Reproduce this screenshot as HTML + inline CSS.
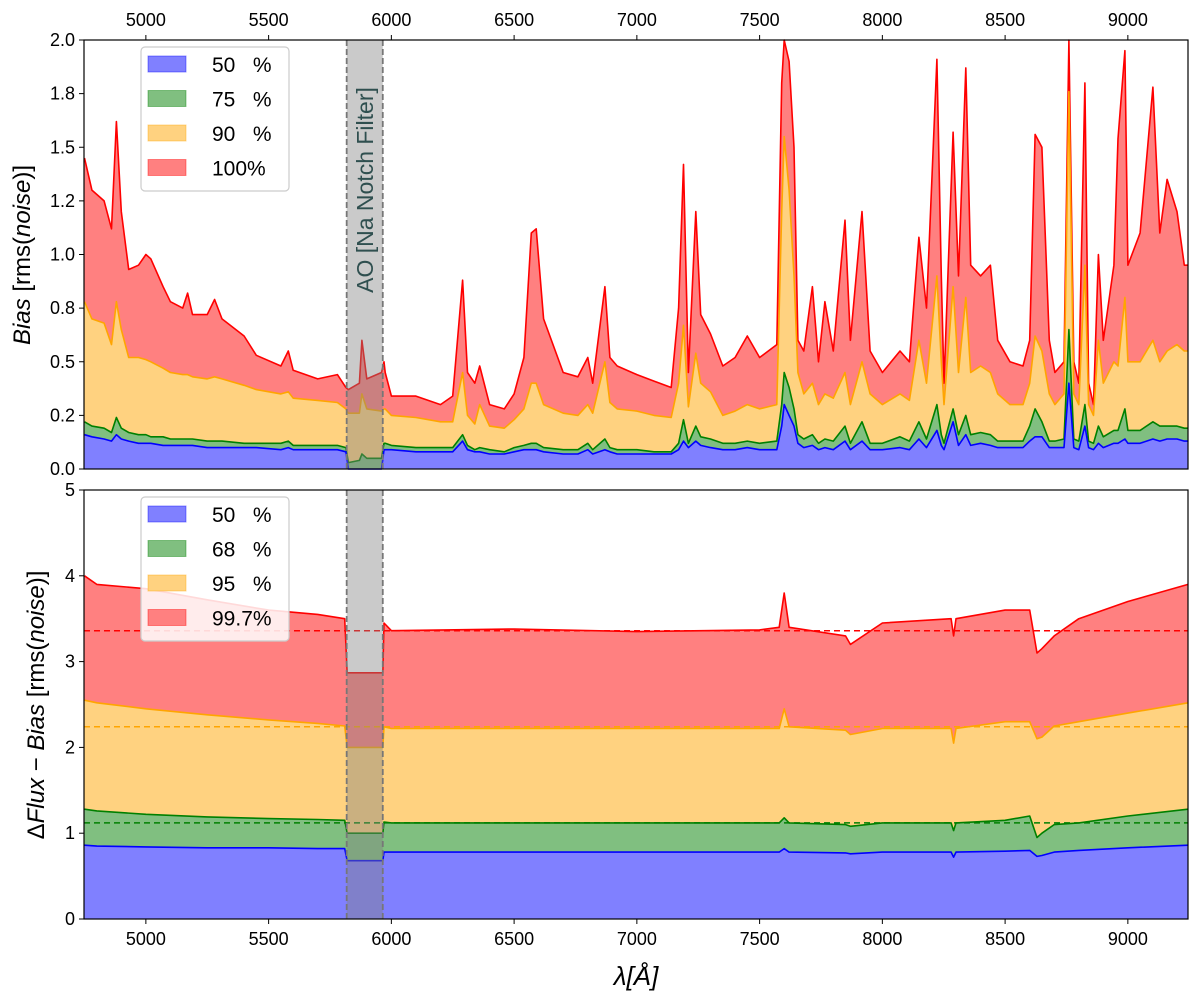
<!DOCTYPE html>
<html><head><meta charset="utf-8"><style>
body{margin:0;background:#fff;}
svg{display:block;font-family:"Liberation Sans","DejaVu Sans",sans-serif;}
text{white-space:pre;}
</style></head><body>
<svg id="chart" width="1200" height="1000" viewBox="0 0 1200 1000" xmlns="http://www.w3.org/2000/svg" xml:space="preserve"></svg>
<script>
// ---- top panel data (Bias) ----
const topWl = [4750,4780,4830,4860,4880,4900,4930,4970,5000,5020,5070,5100,5150,5170,5190,5250,5280,5310,5400,5450,5550,5580,5600,5700,5780,5815,5825,5870,5880,5900,5960,5970,5975,6000,6100,6200,6250,6290,6310,6340,6360,6400,6460,6500,6540,6570,6590,6620,6700,6760,6800,6820,6870,6890,6920,7000,7070,7140,7170,7190,7210,7240,7260,7300,7350,7400,7450,7500,7570,7590,7600,7620,7640,7656,7680,7715,7740,7766,7800,7848,7870,7917,7950,8000,8072,8110,8149,8180,8222,8240,8251,8288,8310,8340,8360,8400,8440,8470,8520,8573,8600,8622,8650,8680,8703,8740,8760,8780,8800,8825,8840,8860,8880,8900,8943,8960,8988,9000,9050,9102,9130,9160,9200,9230,9245];
const topP100 = [1.45,1.3,1.25,1.12,1.62,1.2,0.93,0.95,1.0,0.98,0.85,0.78,0.75,0.82,0.72,0.72,0.79,0.7,0.62,0.53,0.48,0.55,0.46,0.42,0.44,0.38,0.37,0.40,0.60,0.42,0.45,0.5,0.45,0.34,0.34,0.3,0.34,0.88,0.45,0.4,0.48,0.3,0.28,0.35,0.52,1.1,1.12,0.7,0.45,0.43,0.52,0.4,0.85,0.52,0.48,0.44,0.41,0.38,0.75,1.42,0.45,1.2,0.72,0.63,0.48,0.52,0.62,0.52,0.58,1.8,2.0,1.9,1.5,0.6,0.55,0.85,0.5,0.78,0.55,1.16,0.6,1.2,0.55,0.45,0.55,0.5,1.08,0.75,1.91,0.9,0.4,1.57,0.9,1.87,0.95,0.9,0.95,0.6,0.5,0.48,0.6,1.56,1.5,0.6,0.45,0.5,2.0,0.5,0.4,1.8,0.4,0.3,1.0,0.6,0.95,1.54,1.95,0.95,1.1,1.78,1.1,1.35,1.2,0.95,0.95];
const topP90 = [0.78,0.7,0.68,0.58,0.78,0.65,0.52,0.52,0.51,0.5,0.47,0.45,0.44,0.44,0.43,0.42,0.43,0.42,0.39,0.37,0.35,0.36,0.33,0.32,0.31,0.28,0.26,0.26,0.35,0.28,0.27,0.28,0.28,0.25,0.24,0.22,0.22,0.45,0.25,0.21,0.3,0.2,0.19,0.23,0.28,0.4,0.4,0.3,0.26,0.25,0.3,0.26,0.5,0.31,0.28,0.27,0.25,0.24,0.4,0.67,0.29,0.54,0.4,0.36,0.25,0.27,0.3,0.28,0.3,1.2,1.55,1.3,0.9,0.45,0.35,0.4,0.3,0.35,0.33,0.45,0.3,0.5,0.35,0.3,0.35,0.32,0.6,0.4,0.9,0.5,0.3,0.85,0.45,0.8,0.45,0.48,0.45,0.35,0.3,0.3,0.4,0.62,0.55,0.35,0.3,0.35,1.76,0.35,0.3,0.95,0.3,0.25,0.6,0.4,0.5,0.48,0.8,0.5,0.5,0.6,0.5,0.55,0.58,0.55,0.55];
const topP75 = [0.22,0.2,0.19,0.17,0.24,0.19,0.17,0.16,0.16,0.15,0.15,0.14,0.14,0.14,0.14,0.13,0.13,0.13,0.12,0.12,0.12,0.13,0.11,0.11,0.11,0.1,0.03,0.04,0.07,0.05,0.05,0.12,0.12,0.11,0.1,0.1,0.1,0.16,0.11,0.09,0.1,0.09,0.08,0.1,0.11,0.12,0.12,0.1,0.09,0.09,0.12,0.09,0.14,0.1,0.09,0.09,0.08,0.08,0.12,0.23,0.12,0.2,0.15,0.14,0.12,0.12,0.13,0.12,0.13,0.3,0.45,0.38,0.28,0.16,0.14,0.16,0.12,0.14,0.13,0.2,0.12,0.22,0.12,0.12,0.15,0.13,0.22,0.14,0.3,0.16,0.12,0.28,0.16,0.25,0.16,0.17,0.16,0.13,0.13,0.13,0.2,0.28,0.22,0.13,0.13,0.14,0.65,0.14,0.13,0.3,0.13,0.12,0.2,0.15,0.18,0.18,0.28,0.18,0.18,0.22,0.2,0.2,0.2,0.19,0.19];
const topP50 = [0.16,0.15,0.14,0.13,0.16,0.14,0.13,0.12,0.12,0.12,0.11,0.11,0.11,0.11,0.11,0.1,0.1,0.1,0.1,0.1,0.09,0.1,0.09,0.09,0.09,0.08,0.0,0.0,0.0,0.0,0.0,0.09,0.09,0.09,0.08,0.08,0.08,0.13,0.09,0.08,0.08,0.07,0.07,0.08,0.09,0.09,0.09,0.08,0.07,0.07,0.09,0.07,0.09,0.08,0.07,0.07,0.07,0.07,0.09,0.13,0.1,0.13,0.11,0.1,0.09,0.09,0.1,0.09,0.09,0.2,0.3,0.25,0.2,0.12,0.1,0.11,0.09,0.1,0.09,0.13,0.09,0.13,0.09,0.09,0.1,0.09,0.14,0.1,0.18,0.11,0.09,0.22,0.11,0.16,0.11,0.12,0.11,0.1,0.1,0.1,0.13,0.15,0.15,0.1,0.1,0.1,0.4,0.1,0.09,0.2,0.1,0.09,0.12,0.1,0.12,0.12,0.14,0.12,0.12,0.14,0.13,0.14,0.14,0.13,0.13];
const topLabels = ["50   %","75   %","90   %","100%"];
const topTicks = [0,0.25,0.5,0.75,1.0,1.25,1.5,1.75,2.0];
const topTickLabels = ["0.0","0.2","0.5","0.8","1.0","1.2","1.5","1.8","2.0"];
// ---- bottom panel data (ΔFlux − Bias) ----
const botWl = [4750,4800,5000,5250,5500,5700,5810,5820,5965,5970,6000,6500,7000,7500,7580,7600,7620,7850,7870,8000,8280,8290,8300,8500,8600,8630,8650,8700,8800,9000,9245];
const botP997 = [4.0,3.9,3.85,3.72,3.6,3.55,3.5,2.87,2.87,3.45,3.36,3.38,3.35,3.37,3.4,3.8,3.4,3.3,3.2,3.45,3.5,3.3,3.5,3.6,3.6,3.1,3.15,3.3,3.5,3.7,3.9];
const botP95 = [2.55,2.52,2.45,2.38,2.32,2.28,2.25,2.0,2.0,2.24,2.22,2.22,2.22,2.22,2.22,2.45,2.24,2.2,2.15,2.22,2.22,2.05,2.22,2.3,2.3,2.1,2.12,2.25,2.3,2.4,2.52];
const botP68 = [1.28,1.26,1.22,1.19,1.17,1.16,1.15,1.0,1.0,1.13,1.12,1.12,1.12,1.12,1.12,1.18,1.12,1.1,1.08,1.12,1.12,1.03,1.12,1.15,1.2,0.95,1.0,1.1,1.12,1.2,1.28];
const botP50 = [0.86,0.85,0.84,0.83,0.83,0.82,0.82,0.68,0.68,0.78,0.78,0.78,0.78,0.78,0.78,0.82,0.78,0.77,0.76,0.78,0.78,0.72,0.78,0.79,0.8,0.73,0.74,0.78,0.8,0.83,0.86];
const botRefLines = [1.12,2.24,3.36];
const botLabels = ["50   %","68   %","95   %","99.7%"];
const botTicks = [0,1,2,3,4,5];
const botTickLabels = ["0","1","2","3","4","5"];
const xTicks = [5000,5500,6000,6500,7000,7500,8000,8500,9000];

const NS="http://www.w3.org/2000/svg";
const svg=document.getElementById('chart');
function el(tag,attrs,parent){const e=document.createElementNS(NS,tag);for(const k in attrs)e.setAttribute(k,attrs[k]);(parent||svg).appendChild(e);return e;}
const X0=84,X1=1188,WMIN=4748,WMAX=9245;
function xs(w){return X0+(w-WMIN)/(WMAX-WMIN)*(X1-X0);}
const fills=['#8080ff','#80bf80','#ffd280','#ff8080'];
const strokes=['#0000ff','#008000','#ffa500','#ff0000'];

function panel(name,top,bot,vmax,wl,series,ticks,tickLabels,labels,refs){
  const ys=v=>bot-(Math.min(v,vmax)/vmax)*(bot-top);
  const g=el('g',{});
  
  
  for(let i=3;i>=0;i--){
    const s=series[i];
    let d='M'+xs(wl[0])+','+ys(0);
    for(let j=0;j<wl.length;j++) d+=' L'+xs(wl[j]).toFixed(1)+','+ys(s[j]).toFixed(1);
    d+=' L'+xs(wl[wl.length-1])+','+ys(0)+' Z';
    const a=el('path',{d:d,fill:fills[i],stroke:'none'},g);
    
    
  }
  for(let i=3;i>=0;i--){
    const s=series[i];
    const pts=wl.map((w,j)=>xs(w).toFixed(1)+','+ys(s[j]).toFixed(1)).join(' ');
    const l=el('polyline',{points:pts,fill:'none',stroke:strokes[i],'stroke-width':1.6,'stroke-linejoin':'round'},g);
    
    
  }
  if(refs){
    const rc=['#008000','#ffa500','#ff0000'];
    refs.forEach((r,i)=>{
      const l=el('line',{x1:X0,x2:X1,y1:ys(r),y2:ys(r),stroke:rc[i],'stroke-width':1.5,'stroke-dasharray':'6,4'},g);
      
      
    });
  }
  const bx0=xs(5818),bx1=xs(5965);
  const band=el('rect',{x:bx0,y:top,width:bx1-bx0,height:bot-top,fill:'rgba(128,128,128,0.42)'},g);
  
  
  [bx0,bx1].forEach(x=>el('line',{x1:x,x2:x,y1:top,y2:bot,stroke:'#777','stroke-width':1.8,'stroke-dasharray':'6,3'},g));
  const fr=el('rect',{x:X0,y:top,width:X1-X0,height:bot-top,fill:'none',stroke:'#000','stroke-width':1.2},g);
  
  
  ticks.forEach((t,k)=>{
    const y=ys(t);
    el('line',{x1:X0-5,x2:X0,y1:y,y2:y,stroke:'#000','stroke-width':1},g);
    const tx=el('text',{x:X0-9,y:y+6,'text-anchor':'end','font-size':18},g);
    tx.textContent=tickLabels[k];
    
    
  });
  const lg=el('g',{},g);
  
  
  el('rect',{x:141,y:top+7,width:148,height:144,rx:4,fill:'#fff','fill-opacity':0.85,stroke:'#ccc','stroke-width':1.2},lg);
  labels.forEach((lb,i)=>{
    const yy=top+16+i*34.5;
    el('rect',{x:148,y:yy,width:38,height:16,fill:fills[i],stroke:strokes[i],'stroke-opacity':0.4},lg);
    const t=el('text',{x:212,y:yy+16,'font-size':21,'xml:space':'preserve'},lg);
    t.textContent=lb;
    
    
  });
  return ys;
}
panel('bias',40,469,2.0,topWl,[topP50,topP75,topP90,topP100],topTicks,topTickLabels,topLabels,null);
panel('dflux',490,919,5,botWl,[botP50,botP68,botP95,botP997],botTicks,botTickLabels,botLabels,botRefLines);

const nt=el('text',{x:0,y:0,'font-size':23,fill:'#2f4f4f','text-anchor':'middle',transform:'translate(373,190) rotate(-90)'});
nt.textContent='AO [Na Notch Filter]';



xTicks.forEach(w=>{
  const x=xs(w);
  el('line',{x1:x,x2:x,y1:35,y2:40,stroke:'#000'});
  el('line',{x1:x,x2:x,y1:919,y2:924,stroke:'#000'});
  const t1=el('text',{x:x,y:26,'text-anchor':'middle','font-size':18});
  t1.textContent=w;
  
  
  const t2=el('text',{x:x,y:945,'text-anchor':'middle','font-size':18});
  t2.textContent=w;
  
  
});

const yt1=el('text',{transform:'translate(30,255) rotate(-90)','text-anchor':'middle','font-size':24});
yt1.innerHTML='<tspan font-style="italic">Bias</tspan> [rms(<tspan font-style="italic">noise</tspan>)]';


const yt2=el('text',{transform:'translate(44,705) rotate(-90)','text-anchor':'middle','font-size':24});
yt2.innerHTML='Δ<tspan font-style="italic">Flux</tspan> − <tspan font-style="italic">Bias</tspan> [rms(<tspan font-style="italic">noise</tspan>)]';


const xt=el('text',{x:636,y:985,'text-anchor':'middle','font-size':26,'font-style':'italic'});
xt.textContent='λ[Å]';


</script>
</body></html>
